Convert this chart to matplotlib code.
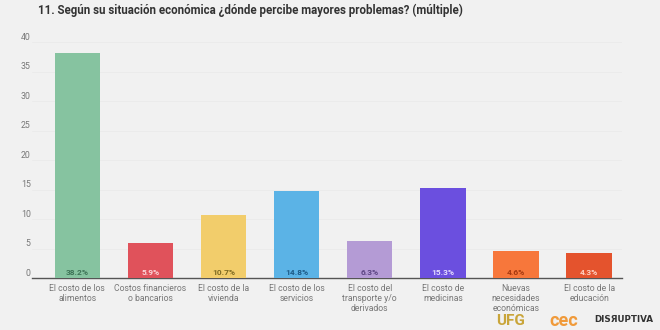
import matplotlib
matplotlib.use("Agg")
import matplotlib.pyplot as plt
import matplotlib.transforms as mtransforms
import numpy as np

categories = [
    "El costo de los\nalimentos",
    "Costos financieros\no bancarios",
    "El costo de la\nvivienda",
    "El costo de los\nservicios",
    "El costo del\ntransporte y/o\nderivados",
    "El costo de\nmedicinas",
    "Nuevas\nnecesidades\neconómicas",
    "El costo de la\neducación",
]
values = [38.2, 5.9, 10.7, 14.8, 6.3, 15.3, 4.6, 4.3]
value_labels = ["38.2%", "5.9%", "10.7%", "14.8%", "6.3%", "15.3%", "4.6%", "4.3%"]
yticks = [0, 5, 10, 15, 20, 25, 30, 35, 40]
title = "11. Según su situación económica ¿dónde percibe mayores problemas? (múltiple)"

bar_colors = ["#86c3a0", "#e0525b", "#f2cd6b", "#5bb3e6", "#b49bd5", "#6b4fdf", "#f7773b", "#e4532d"]
label_colors = ["#3d7356", "#fbd6d9", "#7d6a22", "#1d5a86", "#5b4482", "#e4ddff", "#a5380f", "#ffd2c3"]

plt.rcParams['font.family'] = ['Roboto', 'DejaVu Sans']

fig = plt.figure(figsize=(6.6, 3.3), dpi=100)
fig.patch.set_facecolor("#f1f1f1")
ax = fig.add_axes([32/660, (330-278)/330, (622-32)/660, (278-42)/330])
ax.set_facecolor("none")

x = np.arange(len(values))
ax.bar(x, values, width=0.62, color=bar_colors, zorder=3)
for xi, lab, c in zip(x, value_labels, label_colors):
    ax.text(xi, 0.9, lab, ha="center", va="center", fontsize=6, color=c,
            fontweight="bold", zorder=4)

ax.set_xlim(-0.62, 7.45)
ax.set_ylim(0, 40)
ax.set_yticks(yticks)
ax.set_yticklabels([str(t) for t in yticks])
ax.yaxis.grid(True, color="#e9e9e9", linewidth=0.5, zorder=0)
ax.tick_params(axis="y", length=0, labelsize=6.3, labelcolor="#777777", pad=1)
offset = mtransforms.ScaledTranslation(0, 4/72, fig.dpi_scale_trans)
for lbl in ax.get_yticklabels():
    lbl.set_transform(lbl.get_transform() + offset)

ax.set_xticks(x)
ax.set_xticklabels(categories, fontsize=6.2, color="#777777", linespacing=1.15)
ax.tick_params(axis="x", length=0, pad=4)

for s in ["top", "right", "left"]:
    ax.spines[s].set_visible(False)
ax.spines["bottom"].set_color("#555555")
ax.spines["bottom"].set_linewidth(1.0)

fig.text(38/660, 1 - 10/330, title, fontsize=8.3, fontweight="bold", color="#333333",
         ha="left", va="center")

# logos as text
fig.text(496/660, 1 - 321/330, "UFG", fontsize=11, fontweight="bold", color="#c9a53a",
         ha="left", va="center")
fig.text(549/660, 1 - 321/330, "cec", fontsize=13, fontweight="bold", color="#f09a3a",
         ha="left", va="center")
fig.text(594/660, 1 - 320/330, "DISЯUPTIVA", fontsize=6.3, fontweight="bold", color="#333333",
         ha="left", va="center", family=["DejaVu Sans"])

fig.savefig("out.png", dpi=100, facecolor=fig.get_facecolor())
